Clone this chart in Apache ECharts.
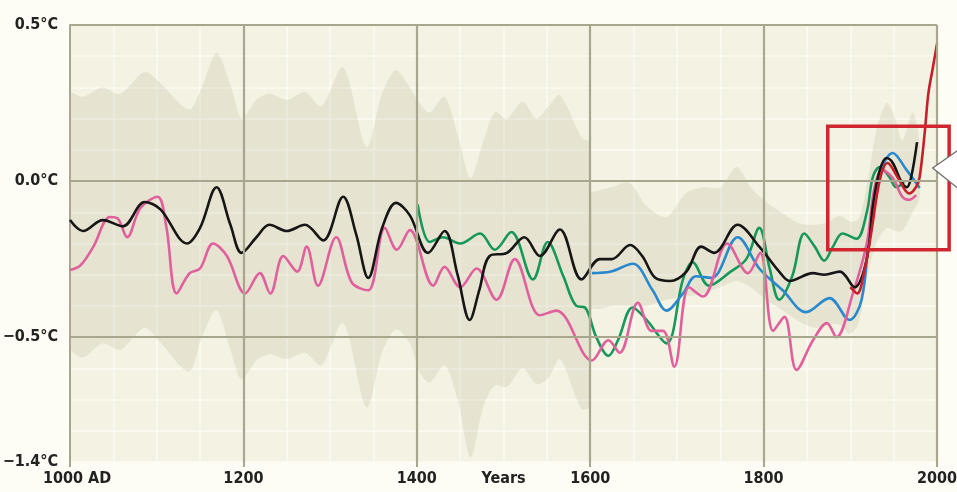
<!DOCTYPE html>
<html>
<head>
<meta charset="utf-8">
<script src="https://cdn.jsdelivr.net/npm/echarts@6/dist/echarts.min.js"></script>
<style>
html,body{margin:0;padding:0;background:#fdfcf5;}
#c{width:957px;height:492px;}
</style>
</head>
<body>
<div id="c"></div>
<script>
// ---------- data ----------
const xTickValues = [1000, 1200, 1400, 1500, 1600, 1800, 2000];
const xTickLabels = ['1000 AD', '1200', '1400', 'Years', '1600', '1800', '2000'];
const yTickValues = [0.5, 0.0, -0.5, -0.9];
const yTickLabels = ['0.5°C', '0.0°C', '\u22120.5°C', '\u22121.4°C'];

const bandAYears = [1000,1015,1037,1058,1086,1102,1137,1152,1169,1186,1198,1215,1230,1250,1271,1290,1315,1342,1360,1376,1392,1403,1415,1432,1447,1462,1477,1490,1504,1522,1538,1552,1565,1590,1600];
const bandAUpper = [0.28,0.27,0.30,0.28,0.35,0.32,0.23,0.30,0.41,0.30,0.20,0.26,0.28,0.26,0.285,0.24,0.365,0.11,0.28,0.355,0.30,0.25,0.22,0.27,0.15,0.01,0.13,0.22,0.20,0.255,0.20,0.24,0.275,0.14,0.12];
const bandALower = [-0.53,-0.565,-0.52,-0.54,-0.47,-0.51,-0.61,-0.50,-0.415,-0.55,-0.635,-0.575,-0.555,-0.57,-0.55,-0.59,-0.455,-0.725,-0.55,-0.475,-0.52,-0.61,-0.645,-0.59,-0.70,-0.885,-0.72,-0.655,-0.66,-0.60,-0.65,-0.63,-0.57,-0.73,-0.72];

const bandBYears = [1600,1610,1625,1645,1665,1688,1710,1730,1750,1769,1785,1803,1820,1841,1860,1875,1888,1900,1910,1920,1930,1942,1952,1960,1972,1980];
const bandBUpper = [-0.04,-0.03,-0.02,-0.005,-0.08,-0.115,-0.04,-0.02,-0.02,0.045,-0.02,-0.067,-0.10,-0.135,-0.14,-0.13,-0.11,-0.13,-0.12,0.0,0.16,0.25,0.20,0.13,0.22,0.12];
const bandBLower = [-0.40,-0.41,-0.40,-0.40,-0.40,-0.38,-0.37,-0.36,-0.34,-0.32,-0.34,-0.38,-0.41,-0.45,-0.47,-0.46,-0.46,-0.49,-0.45,-0.30,-0.20,-0.15,-0.16,-0.16,-0.10,-0.05];

const blackYears = [1000,1015,1038,1061,1086,1104,1135,1150,1169,1185,1198,1215,1230,1250,1271,1292,1315,1330,1344,1360,1376,1392,1413,1432,1447,1461,1472,1484,1504,1524,1542,1565,1590,1611,1625,1646,1660,1675,1692,1711,1728,1743,1770,1795,1818,1830,1857,1870,1888,1905,1919,1926,1934,1942,1949,1959,1965,1970,1977];
const blackVals = [-0.125,-0.16,-0.125,-0.145,-0.067,-0.09,-0.20,-0.15,-0.02,-0.14,-0.23,-0.18,-0.14,-0.16,-0.14,-0.19,-0.05,-0.17,-0.31,-0.15,-0.07,-0.11,-0.23,-0.16,-0.30,-0.445,-0.35,-0.24,-0.23,-0.18,-0.24,-0.155,-0.315,-0.25,-0.25,-0.205,-0.24,-0.31,-0.32,-0.29,-0.21,-0.23,-0.14,-0.21,-0.29,-0.32,-0.295,-0.30,-0.29,-0.34,-0.25,-0.08,0.035,0.074,0.058,-0.003,-0.02,0.01,0.125];

const pinkYears = [1000,1012,1027,1046,1055,1066,1081,1101,1111,1123,1138,1150,1165,1181,1202,1219,1231,1246,1262,1273,1286,1307,1325,1344,1363,1377,1392,1419,1432,1450,1469,1492,1513,1542,1561,1602,1621,1634,1655,1671,1684,1697,1714,1730,1758,1782,1796,1811,1824,1838,1857,1873,1884,1903,1919,1928,1937,1949,1960,1968,1976];
const pinkVals = [-0.285,-0.27,-0.21,-0.115,-0.12,-0.18,-0.087,-0.05,-0.145,-0.36,-0.295,-0.28,-0.20,-0.24,-0.36,-0.295,-0.36,-0.24,-0.29,-0.21,-0.335,-0.18,-0.325,-0.35,-0.15,-0.22,-0.157,-0.335,-0.275,-0.34,-0.28,-0.38,-0.25,-0.43,-0.415,-0.575,-0.51,-0.55,-0.39,-0.48,-0.48,-0.595,-0.34,-0.37,-0.20,-0.295,-0.23,-0.48,-0.435,-0.605,-0.51,-0.455,-0.50,-0.36,-0.20,-0.02,0.035,0.01,-0.05,-0.06,-0.045];

const greenYears = [1401,1415,1430,1450,1473,1490,1509,1534,1551,1569,1584,1594,1607,1621,1632,1649,1665,1688,1707,1718,1737,1762,1780,1795,1807,1818,1833,1847,1859,1870,1880,1891,1907,1919,1926,1934,1945,1953,1962];
const greenVals = [-0.075,-0.195,-0.18,-0.20,-0.168,-0.22,-0.163,-0.315,-0.195,-0.305,-0.40,-0.405,-0.50,-0.56,-0.51,-0.405,-0.445,-0.52,-0.315,-0.26,-0.335,-0.29,-0.25,-0.15,-0.28,-0.38,-0.305,-0.168,-0.21,-0.255,-0.21,-0.168,-0.185,-0.10,0.013,0.045,0.013,-0.02,-0.003];

const blueYears = [1602,1624,1649,1672,1688,1707,1722,1740,1770,1795,1822,1849,1876,1899,1913,1922,1932,1949,1965,1980];
const blueVals = [-0.295,-0.29,-0.265,-0.35,-0.415,-0.36,-0.305,-0.31,-0.18,-0.28,-0.35,-0.42,-0.375,-0.445,-0.38,-0.168,0.003,0.09,0.035,-0.022];

const redYears = [1900,1908,1916,1924,1934,1943,1955,1968,1976,1980,1986,1990,1995,2000];
const redVals = [-0.34,-0.36,-0.29,-0.168,0.003,0.058,0.01,-0.04,-0.018,0.013,0.16,0.28,0.36,0.44];

// highlight box & callout (data coordinates)
const boxCorners = [[1874, 0.176], [2014, -0.22]];
const calloutPts = [[1995, 0.042], [2025, 0.10], [2025, -0.025]];

// ---------- build ----------
const pairs = (xs, ys) => xs.map((x, i) => [x, ys[i]]);

const MAJOR = '#a8a68d';
const MINOR = '#fcfbf3';
const FONT = "'Liberation Sans Narrow','DejaVu Sans Condensed','Liberation Sans',sans-serif";
const bandFill = 'rgba(188,186,156,0.24)';

function lineSeries(name, xs, ys, color) {
  return {
    name, type: 'line', data: pairs(xs, ys), smooth: 0.35, showSymbol: false,
    lineStyle: { color, width: 2.6 }, z: 4, silent: true
  };
}

function bandSeries(name, xs, up, lo) {
  return {
    name, type: 'custom', silent: true, z: 1, clip: true,
    data: [[xs[0], up[0]]],
    encode: { x: 0, y: 1 },
    renderItem: (params, api) => {
      const top = xs.map((x, i) => api.coord([x, up[i]]));
      const bot = xs.map((x, i) => api.coord([x, lo[i]])).reverse();
      return {
        type: 'polygon', shape: { points: top.concat(bot), smooth: 0.3 }, style: { fill: bandFill }
      };
    }
  };
}

const majorLines = [1200,1400,1600,1800,2000].map(v => ({ xAxis: v }))
  .concat([0.5, 0, -0.5].map(v => ({ yAxis: v })));

const textStyle = { fontFamily: FONT, fontSize: 16, fontWeight: 'bold', color: '#222' };

const chart = echarts.init(document.getElementById('c'), null, { renderer: 'canvas' });
chart.setOption({
  backgroundColor: '#fdfcf5',
  animation: false,
  grid: { left: 70, right: 20, top: 25, bottom: 30, show: true, backgroundColor: '#f4f2e2', borderWidth: 0, containLabel: false, outerBoundsMode: 'none' },
  xAxis: [{
    type: 'value', min: 1000, max: 2000, interval: 50,
    axisLine: { lineStyle: { color: MAJOR, width: 2 } },
    axisTick: { show: false },
    splitLine: { show: true, lineStyle: { color: MINOR, width: 1.5 } },
    axisLabel: Object.assign({}, textStyle, {
      margin: 9,
      formatter: v => { const i = xTickValues.indexOf(Math.round(v)); if (i < 0) return ''; return i === 0 ? '{a|' + xTickLabels[i] + '}' : xTickLabels[i]; },
      rich: { a: Object.assign({}, textStyle, { padding: [0, 0, 0, 14] }) }
    })
  }, {
    type: 'value', min: 1000, max: 2000, interval: 200, position: 'bottom',
    axisLine: { show: false }, splitLine: { show: false }, axisLabel: { show: false },
    axisTick: { show: true, length: 5, lineStyle: { color: MAJOR, width: 2 } }
  }],
  yAxis: {
    type: 'value', min: -0.9, max: 0.5, interval: 0.1,
    axisLine: { show: true, lineStyle: { color: MAJOR, width: 2 } },
    axisTick: { show: false },
    splitLine: { show: true, lineStyle: { color: MINOR, width: 1.5 } },
    axisLabel: Object.assign({}, textStyle, {
      margin: 12,
      formatter: v => { const k = Math.round(v * 10); const i = yTickValues.findIndex(t => Math.round(t * 10) === k); return i < 0 ? '' : yTickLabels[i]; }
    })
  },
  series: [
    bandSeries('bandA', bandAYears, bandAUpper, bandALower),
    bandSeries('bandB', bandBYears, bandBUpper, bandBLower),
    { name: 'majors', type: 'line', data: pairs(redYears, redVals), showSymbol: false, lineStyle: { width: 0, opacity: 0 }, z: 2, silent: true,
      markLine: { silent: true, symbol: 'none', label: { show: false }, lineStyle: { color: MAJOR, width: 2.2, type: 'solid' }, data: majorLines } },
    lineSeries('green', greenYears, greenVals, '#17985a'),
    lineSeries('blue', blueYears, blueVals, '#2a88cc'),
    lineSeries('pink', pinkYears, pinkVals, '#e0609e'),
    lineSeries('black', blackYears, blackVals, '#161616'),
    lineSeries('red', redYears, redVals, '#c81e2a')
  ]
});

// annotations in data coordinates
const p0 = chart.convertToPixel({ gridIndex: 0 }, boxCorners[0]);
const p1 = chart.convertToPixel({ gridIndex: 0 }, boxCorners[1]);
const cp = calloutPts.map(p => chart.convertToPixel({ gridIndex: 0 }, p));
chart.setOption({
  graphic: [
    { type: 'rect', z: 100, silent: true,
      shape: { x: p0[0], y: p0[1], width: p1[0] - p0[0], height: p1[1] - p0[1] },
      style: { fill: 'none', stroke: '#d1262f', lineWidth: 3.5 } },
    { type: 'polygon', z: 101, silent: true,
      shape: { points: cp },
      style: { fill: '#ffffff', stroke: '#6b6b6b', lineWidth: 1.3 } }
  ]
});
</script>
</body>
</html>
